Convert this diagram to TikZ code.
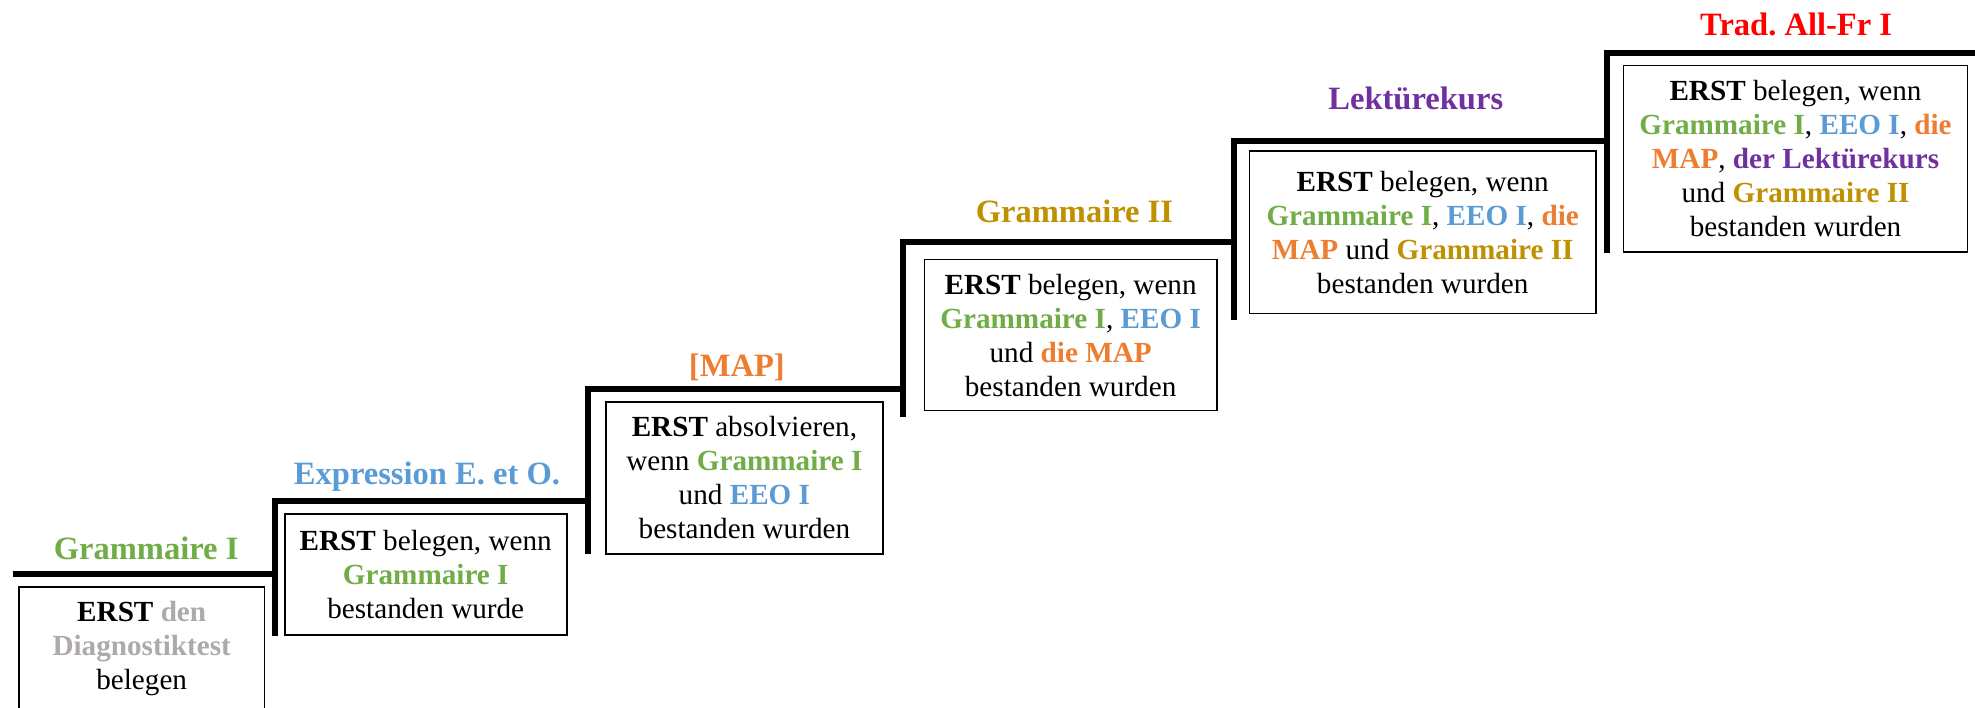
\documentclass[tikz,border=0pt]{standalone}
\usepackage{fontspec}
\setmainfont{Liberation Serif}
\usetikzlibrary{positioning}
\definecolor{gramI}{HTML}{70AD47}
\definecolor{eeo}{HTML}{5B9BD5}
\definecolor{map}{HTML}{ED7D31}
\definecolor{gramII}{HTML}{BF9000}
\definecolor{lekt}{HTML}{7030A0}
\definecolor{trad}{HTML}{FF0000}
\definecolor{diag}{HTML}{AEAAAA}
\newcommand\kursfont{\fontsize{13.9}{16.2}\selectfont}
\newcommand\kurstitle{\fontsize{15.5}{18}\selectfont\bfseries}
\newcommand\kurs[2]{\textbf{\color{#1}#2}}
\frenchspacing
\tikzset{
  stair/.style={line width=2.9pt},
  kursbox/.style={draw, line width=0.8pt, align=center, inner sep=0pt, font=\kursfont},
  kursname/.style={anchor=base, font=\kurstitle}
}
\begin{document}
\begin{tikzpicture}[x=0.6pt,y=-0.6pt]
  \useasboundingbox (0,0) rectangle (1568,561.5);
  \clip (0,0) rectangle (1568,561.5);
  % staircase
  \coordinate (s0) at (10,456);
  \coordinate (s1) at (218,456);
  \coordinate (s2) at (467,398);
  \coordinate (s3) at (717,309);
  \coordinate (s4) at (980,192);
  \coordinate (s5) at (1276,112);
  \coordinate (s6) at (1568,42);
  \draw[stair] (s0) -- (s1);
  \draw[stair] (218,505) -- (218,398) -- (s2);
  \draw[stair] (467,440) -- (467,309) -- (s3);
  \draw[stair] (717,331) -- (717,192) -- (s4);
  \draw[stair] (980,254) -- (980,112) -- (s5);
  \draw[stair] (1276,201) -- (1276,42) -- (s6);
  % course names
  \node[kursname, text=gramI] (t1) at (116,444) {Grammaire I};
  \node[kursname, text=eeo] (t2) at (339,385) {Expression E. et O.};
  \node[kursname, text=map] (t3) at (585,299) {[MAP]};
  \node[kursname, text=gramII] (t4) at (853,177) {Grammaire II};
  \node[kursname, text=lekt] (t5) at (1124,87) {Lektürekurs};
  \node[kursname, text=trad] (t6) at (1426,28) {Trad. All-Fr I};
  % conditions
  \node[kursbox, minimum width=117pt, minimum height=58.8pt] (b1) at (112.5,515)
    {\textbf{ERST} \kurs{diag}{den}\\ \kurs{diag}{Diagnostiktest}\\ belegen};
  \node[kursbox, minimum width=134.4pt, minimum height=57.6pt] (b2) at (338,456)
    {\textbf{ERST} belegen, wenn\\ \kurs{gramI}{Grammaire I}\\ bestanden wurde};
  \node[kursbox, minimum width=132pt, minimum height=72.6pt] (b3) at (591,379.5)
    {\textbf{ERST} absolvieren,\\ wenn \kurs{gramI}{Grammaire I}\\ und \kurs{eeo}{EEO I}\\ bestanden wurden};
  \node[kursbox, minimum width=139.2pt, minimum height=72pt] (b4) at (850,266)
    {\textbf{ERST} belegen, wenn\\ \kurs{gramI}{Grammaire I}, \kurs{eeo}{EEO I}\\ und \kurs{map}{die MAP}\\ bestanden wurden};
  \node[kursbox, minimum width=165pt, minimum height=77.4pt] (b5) at (1129.5,184.5)
    {\textbf{ERST} belegen, wenn\\ \kurs{gramI}{Grammaire I}, \kurs{eeo}{EEO I}, \kurs{map}{die}\\ \kurs{map}{MAP} und \kurs{gramII}{Grammaire II}\\ bestanden wurden};
  \node[kursbox, minimum width=163.8pt, minimum height=88.8pt] (b6) at (1425.5,126)
    {\textbf{ERST} belegen, wenn\\ \kurs{gramI}{Grammaire I}, \kurs{eeo}{EEO I}, \kurs{map}{die}\\ \kurs{map}{MAP}, \kurs{lekt}{der Lektürekurs}\\ und \kurs{gramII}{Grammaire II}\\ bestanden wurden};
\end{tikzpicture}
\end{document}
